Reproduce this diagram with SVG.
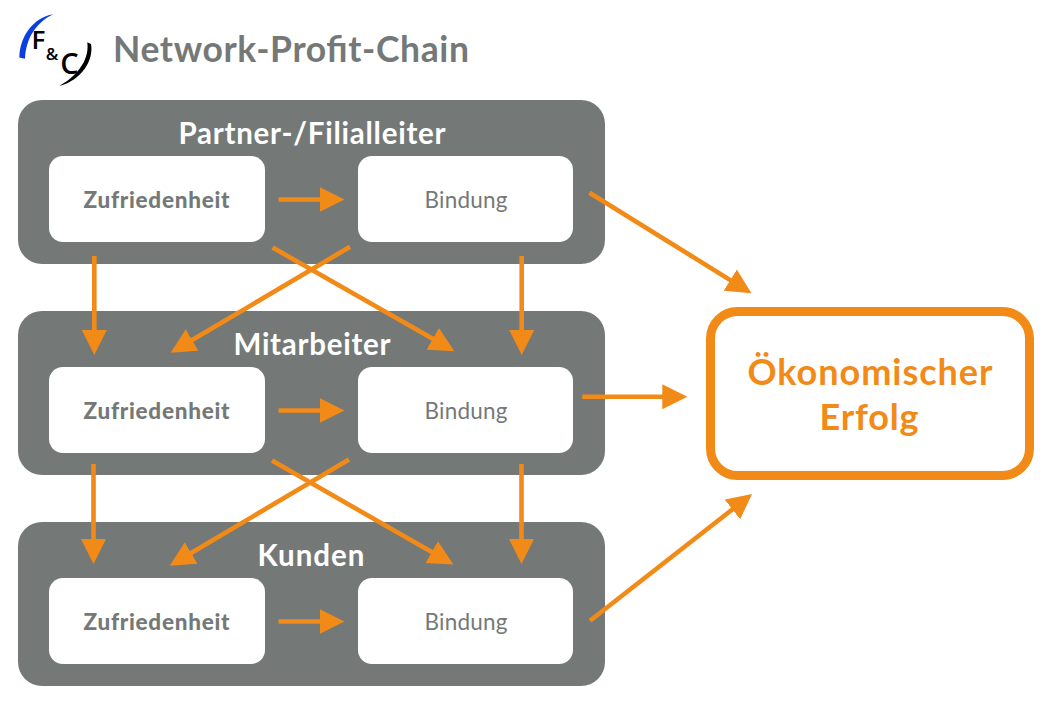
<svg xmlns="http://www.w3.org/2000/svg" width="1052" height="705" viewBox="0 0 1052 705">
<style>
text{font-family:"Lato","Noto Sans",sans-serif;text-anchor:middle}
.panel{fill:#747978}
.box{fill:#fff}
.title{fill:#fff;font-size:29.500px;font-weight:700}
.z{fill:#747978;font-size:22.500px;font-weight:900}
.b{fill:#747978;font-size:22.500px;font-weight:400}
.res{fill:#f18a17;font-size:36px;font-weight:700}
.lg{font-family:"Open Sans",sans-serif;font-weight:600;fill:#000}
.a{stroke:#f18a17;stroke-width:4.600;fill:none;marker-end:url(#h)}
</style>
<defs>
<marker id="h" markerUnits="userSpaceOnUse" markerWidth="26" markerHeight="26" viewBox="0 0 26 26" refX="1" refY="13" orient="auto"><path d="M0 .5L25 13L0 25.500Z" fill="#f18a17"/></marker>
</defs>
<rect width="1052" height="705" fill="#fff"/>
<g id="logo">
<path d="M53 14.300C33 18 20 36 19.300 57.500L25 58.800C26 38 36 23 53 14.300Z" fill="#0b3fe0"/>
<path d="M87.300 42.300L91 44C94 60 82 80 59.300 86C74 78 90 62 87.300 42.300Z" fill="#000"/>
<text class="lg" x="38.500" y="49" style="font-size:26px">F</text>
<text class="lg" x="52" y="60" style="font-size:17px">&amp;</text>
<text class="lg" x="69.500" y="74" style="font-size:29px">C</text>
</g>
<text id="heading" x="113" y="61.500" textLength="356" style="text-anchor:start;font-size:35.500px;font-weight:700" fill="#747978">Network-Profit-Chain</text>
<g id="panel-partner">
<rect class="panel" x="18" y="100" width="587" height="164" rx="24"/>
<text class="title" x="312" y="143.500" textLength="267">Partner-/Filialleiter</text>
</g>
<g id="partner-zufriedenheit"><rect class="box" x="49" y="156" width="216" height="86" rx="14"/><text class="z" x="156.500" y="208" textLength="146">Zufriedenheit</text></g>
<g id="partner-bindung"><rect class="box" x="358" y="156" width="215" height="86" rx="14"/><text class="b" x="466" y="208" textLength="83">Bindung</text></g>
<g id="panel-mitarbeiter">
<rect class="panel" x="18" y="311" width="587" height="164" rx="24"/>
<text class="title" x="312" y="354.500" textLength="157">Mitarbeiter</text>
</g>
<g id="mitarbeiter-zufriedenheit"><rect class="box" x="49" y="367" width="216" height="86" rx="14"/><text class="z" x="156.500" y="419" textLength="146">Zufriedenheit</text></g>
<g id="mitarbeiter-bindung"><rect class="box" x="358" y="367" width="215" height="86" rx="14"/><text class="b" x="466" y="419" textLength="83">Bindung</text></g>
<g id="panel-kunden">
<rect class="panel" x="18" y="522" width="587" height="164" rx="24"/>
<text class="title" x="311" y="565.500" textLength="107">Kunden</text>
</g>
<g id="kunden-zufriedenheit"><rect class="box" x="49" y="578" width="216" height="86" rx="14"/><text class="z" x="156.500" y="630" textLength="146">Zufriedenheit</text></g>
<g id="kunden-bindung"><rect class="box" x="358" y="578" width="215" height="86" rx="14"/><text class="b" x="466" y="630" textLength="83">Bindung</text></g>
<g id="erfolg">
<rect x="710.500" y="311.500" width="319" height="164" rx="27" fill="#fff" stroke="#f18a17" stroke-width="9"/>
<text class="res" x="870" y="384.500" textLength="245">Ökonomischer</text>
<text class="res" x="869" y="429.500" textLength="99">Erfolg</text>
</g>
<g id="connectors">
<line class="a" x1="278.500" y1="199.500" x2="320.500" y2="199.500"/>
<line class="a" x1="278.500" y1="410.500" x2="320.500" y2="410.500"/>
<line class="a" x1="278.500" y1="621.500" x2="320.500" y2="621.500"/>
<line class="a" x1="94.300" y1="256" x2="94.300" y2="331"/>
<line class="a" x1="521.700" y1="256" x2="521.700" y2="331"/>
<line class="a" x1="93.500" y1="464" x2="93.500" y2="540"/>
<line class="a" x1="521.500" y1="464" x2="521.500" y2="540"/>
<line class="a" x1="272.600" y1="247.500" x2="433.600" y2="339.300"/>
<line class="a" x1="350" y1="246.800" x2="191.300" y2="340.500"/>
<line class="a" x1="272" y1="460.500" x2="432.600" y2="552.600"/>
<line class="a" x1="349" y1="459.500" x2="190.300" y2="553.500"/>
<line class="a" x1="589.500" y1="192.700" x2="731.100" y2="280.600"/>
<line class="a" x1="582.300" y1="396.700" x2="663.300" y2="396.700"/>
<line class="a" x1="590" y1="620.700" x2="733.200" y2="508.800"/>
</g>
</svg>
